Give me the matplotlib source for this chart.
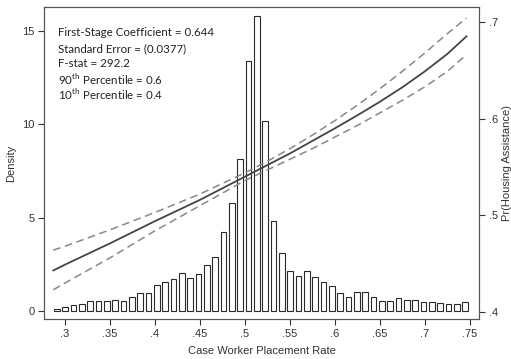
import numpy as np
import matplotlib
matplotlib.use("Agg")
import matplotlib.pyplot as plt
from matplotlib.ticker import FuncFormatter

# ---- data ----
density = [0.12, 0.20, 0.30, 0.37, 0.53, 0.55, 0.55, 0.59, 0.55, 0.73,
           0.95, 0.98, 1.39, 1.54, 1.70, 2.03, 1.77, 1.98, 2.46, 2.88,
           4.25, 5.80, 8.14, 13.40, 15.82, 10.18, 4.82, 3.09, 2.14, 1.88,
           2.14, 1.80, 1.54, 1.36, 0.97, 0.75, 1.00, 1.04, 0.73, 0.55,
           0.55, 0.71, 0.59, 0.59, 0.46, 0.50, 0.41, 0.37, 0.37, 0.46]
hist_lo, hist_hi = 0.2862, 0.7491

curve_x = [0.287, 0.30, 0.325, 0.35, 0.375, 0.40, 0.425, 0.45, 0.475, 0.50,
           0.525, 0.55, 0.575, 0.60, 0.625, 0.65, 0.675, 0.70, 0.725, 0.746]
pr_fit = [0.443, 0.449, 0.460, 0.471, 0.4825, 0.494, 0.505, 0.516, 0.528, 0.540,
          0.552, 0.564, 0.577, 0.590, 0.6035, 0.6175, 0.6325, 0.649, 0.667, 0.685]
pr_hi = [0.464, 0.468, 0.4765, 0.485, 0.494, 0.503, 0.5125, 0.522, 0.533, 0.544,
         0.556, 0.569, 0.583, 0.598, 0.614, 0.631, 0.649, 0.668, 0.688, 0.704]
pr_lo = [0.423, 0.430, 0.443, 0.456, 0.470, 0.484, 0.497, 0.510, 0.523, 0.536,
         0.547, 0.558, 0.569, 0.581, 0.593, 0.606, 0.619, 0.633, 0.649, 0.666]

x_ticks = [0.3, 0.35, 0.4, 0.45, 0.5, 0.55, 0.6, 0.65, 0.7, 0.75]
y_ticks = [0, 5, 10, 15]
y2_ticks = [0.4, 0.5, 0.6, 0.7]

notes = ["First-Stage Coefficient = 0.644",
         "Standard Error = (0.0377)",
         "F-stat = 292.2",
         r"90$^{\mathrm{th}}$ Percentile = 0.6",
         r"10$^{\mathrm{th}}$ Percentile = 0.4"]

# ---- plotting ----
plt.rcParams['font.family'] = ['Liberation Sans', 'DejaVu Sans']
plt.rcParams['mathtext.fontset'] = 'custom'
plt.rcParams['mathtext.rm'] = 'Lato'

fig = plt.figure(figsize=(5.11, 3.59), dpi=100)
ax = fig.add_axes([0.0861, 0.1114, 0.8513, 0.8691])

edges = np.linspace(hist_lo, hist_hi, len(density) + 1)
centers = (edges[:-1] + edges[1:]) / 2
step = edges[1] - edges[0]
ax.bar(centers, density, width=step * 0.68, facecolor='white',
       edgecolor='#2a2a2a', linewidth=0.8)

ax.set_xlim(0.2767, 0.76)
ax.set_ylim(-0.43, 16.28)
ax.set_xticks(x_ticks)
ax.set_yticks(y_ticks)
fmt = FuncFormatter(lambda v, p: ("%g" % v).lstrip('0') if v < 1 else "%g" % v)
ax.xaxis.set_major_formatter(fmt)
ax.tick_params(axis='both', direction='out', length=4, width=0.8,
               labelsize=8, colors='#333333', pad=3)
ax.set_ylabel("Density", fontsize=8, color='#333333', labelpad=4)
ax.set_xlabel("Case Worker Placement Rate", fontsize=8, color='#333333', labelpad=5)
for s in ax.spines.values():
    s.set_color('#555555')
    s.set_linewidth(0.8)

ax2 = ax.twinx()
ax2.plot(curve_x, pr_fit, color='#444444', linewidth=1.3)
ax2.plot(curve_x, pr_hi, color='#888888', linewidth=1.1, dashes=(5, 3))
ax2.plot(curve_x, pr_lo, color='#888888', linewidth=1.1, dashes=(5, 3))
ax2.set_ylim(0.3928, 0.7154)
ax2.set_yticks(y2_ticks)
ax2.yaxis.set_major_formatter(fmt)
ax2.tick_params(axis='y', direction='out', length=4, width=0.8,
                labelsize=8, colors='#333333', pad=3)
ax2.set_ylabel("Pr(Housing Assistance)", fontsize=8, color='#333333', labelpad=3)
for s in ax2.spines.values():
    s.set_color('#555555')
    s.set_linewidth(0.8)

y0 = 33
for i, t in enumerate(notes):
    fig.text(58 / 511, 1 - (y0 + i * 15.3) / 359, t, fontsize=8.3,
             family=['Lato', 'DejaVu Sans'], color='#222222', va='center', ha='left')

fig.savefig("out.png", dpi=100)
